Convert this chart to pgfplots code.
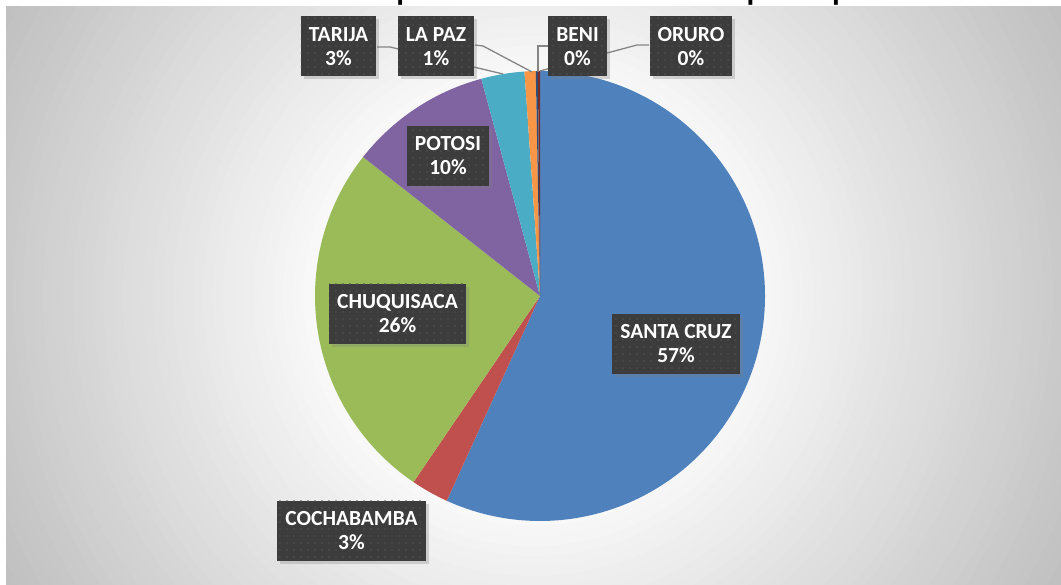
\documentclass[border=0pt]{standalone}
\usepackage{pgfplots}
\pgfplotsset{compat=1.18}
\usepackage{pgfplotstable}
\usepackage{fontspec}
\setmainfont{Carlito}
\newfontfamily\titlefont{Liberation Sans}
\usetikzlibrary{patterns.meta,shadows}

\definecolor{cSC}{HTML}{4F81BD}
\definecolor{cCO}{HTML}{C0504D}
\definecolor{cCH}{HTML}{9BBB59}
\definecolor{cPO}{HTML}{8064A2}
\definecolor{cTA}{HTML}{4BACC6}
\definecolor{cLP}{HTML}{F79646}
\definecolor{cBE}{HTML}{2C4D75}
\definecolor{cOR}{HTML}{772C2A}
\definecolor{bgD}{HTML}{C0C0C0}
\definecolor{lblgray}{HTML}{3C3C3C}
\definecolor{lbldot}{HTML}{525252}
\definecolor{leader}{HTML}{858585}

\pgfplotstableread[col sep=comma]{
name,value,color
SANTA CRUZ,56.8,cSC
COCHABAMBA,2.7,cCO
CHUQUISACA,26.1,cCH
POTOSI,10.2,cPO
TARIJA,3.1,cTA
LA PAZ,0.8,cLP
BENI,0.15,cBE
ORURO,0.15,cOR
}\piedata

\tikzset{
  lbl/.style={fill=lblgray,
    postaction={pattern={Dots[distance=7pt,radius=0.9pt]}, pattern color=lbldot},
    drop shadow={opacity=0.3, shadow xshift=3pt, shadow yshift=-3pt},
    text=white, font=\bfseries\fontsize{21.5}{24}\selectfont,
    align=center, minimum height=60pt, inner xsep=8pt, inner ysep=4pt}
}

\begin{document}
\begin{tikzpicture}[x=1pt,y=1pt]
\useasboundingbox (0,0) rectangle (1061,585);
% background (radial gradient built from concentric discs)
\begin{scope}
\clip (6,0) rectangle (1061,578);
\foreach \k in {0,...,63}{
  \pgfmathsetmacro\r{640*(1-\k/64)}
  \pgfmathsetmacro\t{\r/600}
  \pgfmathsetmacro\p{max(0,min(1,(\t-0.3)/0.7))*100}
  \fill[bgD!\p!white] (533,289) circle[radius=\r];
}
\end{scope}
% title (cut off at top)
\node[anchor=base west, inner sep=0pt, font=\titlefont\bfseries\fontsize{28}{32}\selectfont] at (62,585.5)
  {Gráfico N° 5: Número de pacientes tratados de VIH por departamento};

\begin{axis}[at={(0,0)}, anchor=south west, x=1pt, y=1pt,
  xmin=0, xmax=1061, ymin=0, ymax=585, hide axis, clip=false]
\def\cum{0}
\pgfplotsforeachungrouped \i in {0,...,7}{%
  \pgfplotstablegetelem{\i}{value}\of\piedata \let\slv\pgfplotsretval
  \pgfplotstablegetelem{\i}{color}\of\piedata \let\slc\pgfplotsretval
  \pgfmathsetmacro\sa{90-3.6*\cum}%
  \pgfmathsetmacro\cum{\cum+\slv}%
  \pgfmathsetmacro\sb{90-3.6*\cum}%
  \edef\doit{\noexpand\fill[\slc] (axis cs:540,289) -- ++(\sa:225pt) arc[start angle=\sa, end angle=\sb, radius=225pt] -- cycle;}%
  \doit
}
\end{axis}

% leader lines
\draw[leader, line width=1.3pt] (377,538) -- (390,538) -- (503,511);
\draw[leader, line width=1.3pt] (475,540) -- (483,539) -- (532,513);
\draw[leader, line width=1.3pt] (549,539) -- (538,539) -- (538,513);
\draw[leader, line width=1.3pt] (649,540) -- (637,540) -- (540,514);

% labels
\node[lbl] at (676,241) {SANTA CRUZ\\57\%};
\node[lbl] at (397.5,271) {CHUQUISACA\\26\%};
\node[lbl] at (448,429) {POTOSI\\10\%};
\node[lbl] at (351.5,54) {COCHABAMBA\\3\%};
\node[lbl] at (338.5,538.5) {TARIJA\\3\%};
\node[lbl] at (436,538.5) {LA PAZ\\1\%};
\node[lbl] at (577.5,538.5) {BENI\\0\%};
\node[lbl] at (691,538.5) {ORURO\\0\%};
\end{tikzpicture}
\end{document}
